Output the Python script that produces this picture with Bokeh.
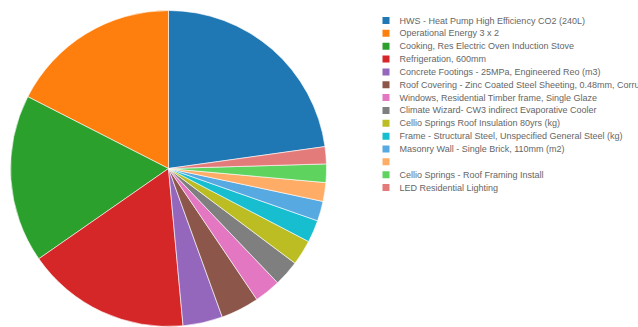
import math
from bokeh.plotting import figure
from bokeh.models import Range1d, ColumnDataSource
from bokeh.core.properties import value
from bokeh.embed import file_html
from bokeh.resources import INLINE

labels = [
    "HWS - Heat Pump High Efficiency CO2 (240L)",
    "Operational Energy 3 x 2",
    "Cooking, Res Electric Oven Induction Stove",
    "Refrigeration, 600mm",
    "Concrete Footings - 25MPa, Engineered Reo (m3)",
    "Roof Covering - Zinc Coated Steel Sheeting, 0.48mm, Corrugated",
    "Windows, Residential Timber frame, Single Glaze",
    "Climate Wizard- CW3 indirect Evaporative Cooler",
    "Cellio Springs Roof Insulation  80yrs (kg)",
    "Frame - Structural Steel, Unspecified General Steel (kg)",
    "Masonry Wall - Single Brick, 110mm (m2)",
    "",
    "Cellio Springs - Roof Framing Install",
    "LED Residential Lighting",
]
values = [22.8, 17.5, 17.2, 16.8, 4.06, 3.92, 2.69, 2.64, 2.58, 2.28, 2.03, 1.92, 1.89, 1.75]
colors = ["#1f77b4", "#ff7f0e", "#2ca02c", "#d62728", "#9467bd", "#8c564b",
          "#e377c2", "#7f7f7f", "#bcbd22", "#17becf", "#57a9e2", "#ffac67",
          "#5ed35e", "#e37b7b"]

W, H = 638, 327
total = sum(values)
fr = [v / total * 2 * math.pi for v in values]
start0 = math.pi / 2 - fr[0]
starts, ends = [], []
a = start0
for f in fr:
    starts.append(a)
    a += f
    ends.append(a)

cx, cy, r = 168, H - 168, 158

p = figure(width=W, height=H, output_backend="svg", toolbar_location=None,
           x_range=Range1d(0, W), y_range=Range1d(0, H), min_border=0)
p.axis.visible = False
p.grid.visible = False
p.outline_line_color = None
p.background_fill_color = "white"
p.border_fill_color = "white"

src = ColumnDataSource(dict(start=starts, end=ends, color=colors, label=labels))
p.wedge(x=cx, y=cy, radius=r, start_angle="start", end_angle="end",
        fill_color="color", line_color="white", line_width=0.6, source=src)

n = len(labels)
ly = [H - (20 + i * 12.85) for i in range(n)]
lsrc = ColumnDataSource(dict(y=ly, color=colors, label=labels,
                             sx=[385.5] * n, tx=[399] * n))
p.rect(x="sx", y="y", width=7, height=7, fill_color="color", line_color=None, source=lsrc)
p.text(x="tx", y="y", text="label", text_font=value("Liberation Sans"), text_font_size="9px",
       text_color="#666666", text_baseline="middle", source=lsrc)

open("out.html", "w").write(file_html(p, INLINE))
